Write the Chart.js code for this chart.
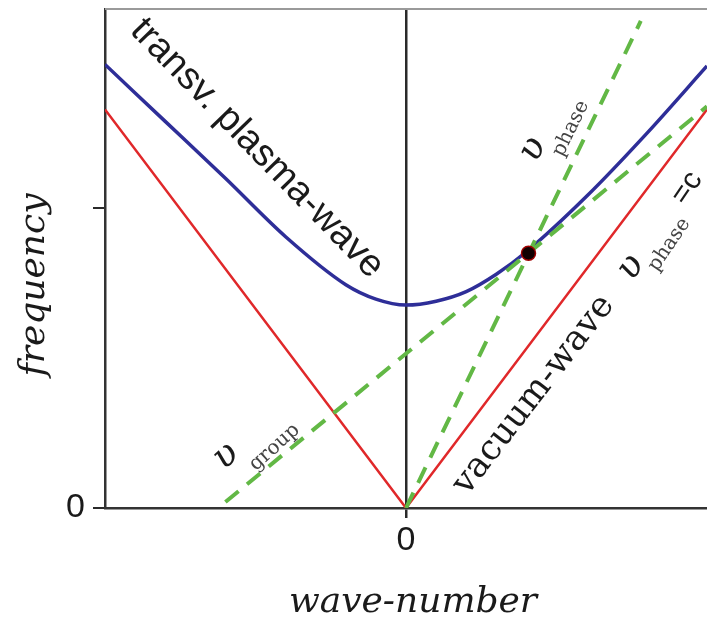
<!DOCTYPE html>
<html>
<head>
<meta charset="utf-8">
<script src="https://cdn.jsdelivr.net/npm/chart.js@4.4.1/dist/chart.umd.min.js"></script>
<style>
  html, body { margin: 0; padding: 0; background: #fff; }
  #wrap { width: 707px; height: 626px; }
</style>
</head>
<body>
<div id="wrap"><canvas id="dispersion" width="707" height="626"></canvas></div>
<script>
/* dispersion relation: vacuum wave vs transverse plasma wave */
const vacuumK    = [-1, 0, 1];
const vacuumFreq = [1.33, 0, 1.33];

const plasmaK    = [-1, -0.8, -0.6, -0.4, -0.2, -0.1, 0, 0.1, 0.2, 0.3, 0.4, 0.6, 0.8, 1];
const plasmaFreq = [1.48, 1.29, 1.10, 0.905, 0.745, 0.697, 0.677, 0.69, 0.722, 0.78, 0.855, 1.04, 1.25, 1.475];

const phaseK     = [0, 0.78];
const phaseFreq  = [0, 1.625];

const groupK     = [-0.6, 1.0];
const groupFreq  = [0.02, 1.34];

const markK      = [0.407];
const markFreq   = [0.85];

const xTicks = [0];
const yTicks = [0, 1];

const pts = (xs, ys) => xs.map((x, i) => ({ x: x, y: ys[i] }));

/* ── text labels, anchored in data coords ─────────────────────────── */
const labelPlugin = {
    id: 'labels',
    afterDatasetsDraw(chart) {
        const { ctx, scales: { x, y }, chartArea } = chart;
        ctx.save();
        // gray frame line on top
        ctx.strokeStyle = '#9a9a9a';
        ctx.lineWidth = 2;
        ctx.beginPath();
        ctx.moveTo(chartArea.left, chartArea.top);
        ctx.lineTo(chartArea.right, chartArea.top);
        ctx.stroke();

        const at = (k, w, deg, fn) => {
            ctx.save();
            ctx.translate(x.getPixelForValue(k), y.getPixelForValue(w));
            ctx.rotate(deg * Math.PI / 180);
            ctx.textAlign = 'center';
            ctx.textBaseline = 'middle';
            fn();
            ctx.restore();
        };
        const serif = '"DejaVu Serif", serif';

        at(-0.495, 1.2, 45.8, () => {
            ctx.fillStyle = '#1a1a1a';
            ctx.font = '38px "Liberation Sans", Arial, sans-serif';
            ctx.fillText('transv. plasma-wave', 0, 0);
        });
        at(0.425, 0.377, -52.3, () => {
            ctx.fillStyle = '#1a1a1a';
            ctx.font = '35px ' + serif;
            ctx.fillText('vacuum-wave', 0, 0);
        });
        // v_phase along the steep dashed line
        at(0.422, 1.197, -64, () => {
            ctx.fillStyle = '#1a1a1a';
            ctx.font = 'italic 36px ' + serif;
            ctx.fillText('υ', 0, 0);
            ctx.fillStyle = '#444';
            ctx.font = '20px ' + serif;
            ctx.fillText('phase', 35, 25);
        });
        // v_phase = c next to vacuum line
        at(0.748, 0.803, -56, () => {
            ctx.fillStyle = '#1a1a1a';
            ctx.font = 'italic 36px ' + serif;
            ctx.fillText('υ', 0, 0);
            ctx.fillStyle = '#444';
            ctx.font = '20px ' + serif;
            ctx.fillText('phase', 40, 19);
            ctx.fillStyle = '#1a1a1a';
            ctx.font = '30px "Liberation Sans", Arial, sans-serif';
            ctx.fillText('=c', 97, 2);
        });
        // v_group
        at(-0.598, 0.173, -42, () => {
            ctx.fillStyle = '#1a1a1a';
            ctx.font = 'italic 36px ' + serif;
            ctx.fillText('υ', 0, 0);
            ctx.fillStyle = '#444';
            ctx.font = '20px ' + serif;
            ctx.fillText('group', 42, 26);
        });

        // axis titles
        ctx.fillStyle = '#1a1a1a';
        ctx.font = 'italic 36px ' + serif;
        ctx.textAlign = 'center';
        ctx.textBaseline = 'middle';
        ctx.fillText('wave-number', 413, 603);
        ctx.translate(35, 285);
        ctx.rotate(-Math.PI / 2);
        ctx.fillText('frequency', 0, 0);
        ctx.restore();
    }
};

new Chart(document.getElementById('dispersion').getContext('2d'), {
    type: 'line',
    data: {
        datasets: [
            {
                label: 'crossing',
                data: pts(markK, markFreq),
                showLine: false,
                pointRadius: 7,
                pointBackgroundColor: '#120000',
                pointBorderColor: '#a00000',
                pointBorderWidth: 1.5,
            },
            {
                label: 'v phase',
                data: pts(phaseK, phaseFreq),
                borderColor: '#62b845',
                borderWidth: 4,
                borderDash: [17, 11],
                pointRadius: 0,
            },
            {
                label: 'v group',
                data: pts(groupK, groupFreq),
                borderColor: '#62b845',
                borderWidth: 4,
                borderDash: [17, 11],
                pointRadius: 0,
            },
            {
                label: 'transv. plasma-wave',
                data: pts(plasmaK, plasmaFreq),
                borderColor: '#2e2e98',
                borderWidth: 3.5,
                cubicInterpolationMode: 'monotone',
                pointRadius: 0,
            },
            {
                label: 'vacuum-wave',
                data: pts(vacuumK, vacuumFreq),
                borderColor: '#e0282a',
                borderWidth: 2.5,
                pointRadius: 0,
            }
        ]
    },
    options: {
        responsive: false,
        animation: false,
        layout: { autoPadding: false, padding: { top: 9, left: 0, right: 0, bottom: 0 } },
        plugins: {
            legend: { display: false },
            tooltip: { enabled: false }
        },
        scales: {
            x: {
                type: 'linear',
                min: -1,
                max: 1,
                afterBuildTicks: s => { s.ticks = xTicks.map(v => ({ value: v })); },
                afterFit: s => { s.height = 118; s.paddingLeft = 0; s.paddingRight = 0; },
                border: { color: '#333', width: 2.5 },
                grid: { color: '#2a2a2a', lineWidth: 2.5, tickLength: 10 },
                ticks: {
                    padding: 2,
                    color: '#1a1a1a',
                    font: { family: '"Liberation Sans", Arial, sans-serif', size: 34 },
                    callback: v => String(v)
                }
            },
            y: {
                min: 0,
                max: 1.665,
                afterBuildTicks: s => { s.ticks = yTicks.map(v => ({ value: v })); },
                afterFit: s => { s.width = 105; s.paddingTop = 0; s.paddingBottom = 0; },
                border: { color: '#333', width: 2.5 },
                grid: { drawOnChartArea: false, color: '#2a2a2a', lineWidth: 2, tickLength: 12 },
                ticks: {
                    padding: 8,
                    color: '#1a1a1a',
                    font: { family: '"Liberation Sans", Arial, sans-serif', size: 34 },
                    callback: v => (v === 0 ? '0' : '')
                }
            }
        }
    },
    plugins: [labelPlugin]
});
</script>
</body>
</html>
